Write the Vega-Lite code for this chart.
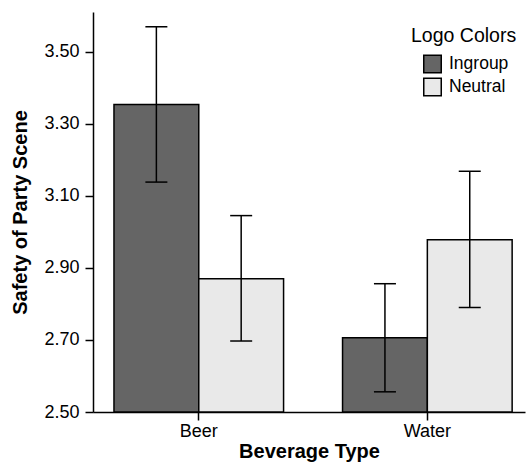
{
  "$schema": "https://vega.github.io/schema/vega-lite/v6.json",
  "width": 432,
  "height": 400,
  "autosize": {"type": "none"},
  "padding": {"left": 93, "top": 12, "right": 6, "bottom": 51},
  "background": "white",
  "config": {
    "font": "Liberation Sans",
    "view": {"stroke": null},
    "axis": {"domainColor": "black", "domainWidth": 1.5, "tickColor": "black", "tickWidth": 1.5, "tickSize": 8, "labelColor": "black", "titleColor": "black", "labelFontSize": 18, "labelFontWeight": "normal", "grid": false}
  },
  "data": {
    "values": [
      {"beverage": "Beer", "logo": "Ingroup", "mean": 3.353, "lower": 3.138, "upper": 3.569},
      {"beverage": "Beer", "logo": "Neutral", "mean": 2.870, "lower": 2.697, "upper": 3.045},
      {"beverage": "Water", "logo": "Ingroup", "mean": 2.706, "lower": 2.556, "upper": 2.856},
      {"beverage": "Water", "logo": "Neutral", "mean": 2.978, "lower": 2.790, "upper": 3.168}
    ]
  },
  "encoding": {
    "x": {
      "field": "beverage", "type": "nominal",
      "scale": {"paddingInner": 0.258, "paddingOuter": 0.074, "align": 0.62},
      "axis": {"title": "Beverage Type", "labelAngle": 0, "labelPadding": 2, "labelFontSize": 18, "titleFontSize": 20, "titleFontWeight": "bold", "titlePadding": 1}
    },
    "xOffset": {"field": "logo", "type": "nominal", "scale": {"paddingInner": 0, "paddingOuter": 0}}
  },
  "layer": [
    {
      "mark": {"type": "bar", "stroke": "black", "strokeWidth": 1.5},
      "encoding": {
        "y": {
          "field": "mean", "type": "quantitative",
          "scale": {"domain": [2.5, 3.61], "nice": false, "zero": false},
          "axis": {"title": "Safety of Party Scene", "values": [2.5, 2.7, 2.9, 3.1, 3.3, 3.5], "format": ".2f", "labelFontSize": 18, "titleFontSize": 20, "titleFontWeight": "bold", "titlePadding": 13, "labelPadding": 6}
        },
        "y2": {"datum": 2.5},
        "fill": {
          "field": "logo", "type": "nominal",
          "scale": {"domain": ["Ingroup", "Neutral"], "range": ["#656565", "#e9e9e9"]},
          "legend": {
            "title": "Logo Colors", "orient": "none", "legendX": 318, "legendY": 15,
            "titleFontSize": 19.5, "titleFontWeight": "normal", "titleColor": "black",
            "labelFontSize": 17.5, "labelColor": "black",
            "symbolType": "square", "symbolSize": 306, "symbolStrokeColor": "black", "symbolStrokeWidth": 1.5,
            "symbolOffset": 12, "rowPadding": -2, "titlePadding": 8, "labelOffset": 7
          }
        }
      }
    },
    {
      "mark": {"type": "rule", "color": "black", "strokeWidth": 1.5},
      "encoding": {
        "y": {"field": "lower", "type": "quantitative"},
        "y2": {"field": "upper"}
      }
    },
    {
      "mark": {"type": "tick", "color": "black", "thickness": 1.5, "size": 22, "opacity": 1},
      "encoding": {"y": {"field": "upper", "type": "quantitative"}}
    },
    {
      "mark": {"type": "tick", "color": "black", "thickness": 1.5, "size": 22, "opacity": 1},
      "encoding": {"y": {"field": "lower", "type": "quantitative"}}
    }
  ]
}
